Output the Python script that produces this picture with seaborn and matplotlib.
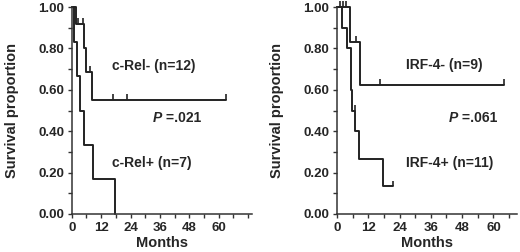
import numpy as np
import pandas as pd
import seaborn as sns
import matplotlib.pyplot as plt
from matplotlib.path import Path
from matplotlib.ticker import MultipleLocator, FormatStrFormatter

# --- left panel: c-Rel
crel_neg_t = [0, 1.9, 4.9, 6.0, 8.3, 63.0]
crel_neg_s = [1.0, 0.917, 0.803, 0.688, 0.55, 0.55]
crel_neg_cens_t = [2.7, 4.4, 7.4, 16.9, 22.4, 63.0]
crel_neg_cens_s = [0.917, 0.917, 0.688, 0.55, 0.55, 0.55]

crel_pos_t = [0, 1.1, 2.2, 3.5, 5.2, 8.5, 17.6]
crel_pos_s = [1.0, 0.833, 0.667, 0.5, 0.333, 0.167, 0.0]

# --- right panel: IRF-4
irf_neg_t = [0, 5.1, 8.7, 64.0]
irf_neg_s = [1.0, 0.833, 0.625, 0.625]
irf_neg_cens_t = [1.3, 2.3, 3.6, 7.4, 16.4, 64.0]
irf_neg_cens_s = [1.0, 1.0, 1.0, 0.833, 0.625, 0.625]

irf_pos_t = [0, 1.8, 3.8, 5.4, 5.9, 7.1, 8.3, 17.5, 21.3]
irf_pos_s = [1.0, 0.9, 0.8, 0.6, 0.5, 0.4, 0.267, 0.133, 0.133]
irf_pos_cens_t = [7.1, 21.3]
irf_pos_cens_s = [0.5, 0.133]

sns.set_style("ticks")
plt.rcParams["font.family"] = ["Liberation Sans", "DejaVu Sans"]
plt.rcParams["font.weight"] = "bold"

LINE = "#222222"
CENSOR = Path([(0, 0), (0, 1)])  # upward tick mark


def draw_curve(ax, t, s):
    df = pd.DataFrame({"t": t, "s": s})
    sns.lineplot(data=df, x="t", y="s", ax=ax, estimator=None, sort=False,
                 drawstyle="steps-post", color=LINE, linewidth=1.4, clip_on=False)


def draw_censor(ax, t, s):
    df = pd.DataFrame({"t": t, "s": s})
    sns.scatterplot(data=df, x="t", y="s", ax=ax, marker=CENSOR, s=70,
                    edgecolor=LINE, facecolor="none", linewidth=1.2, clip_on=False)


def style_axis(ax, xmax, minor_max):
    ax.set_xlim(0, xmax)
    ax.set_ylim(0, 1.0)
    ax.set_xticks(np.arange(0, 61, 12))
    ax.set_xticks(np.arange(6, minor_max + 1, 6), minor=True)
    ax.yaxis.set_major_locator(MultipleLocator(0.2))
    ax.yaxis.set_minor_locator(MultipleLocator(0.1))
    ax.yaxis.set_major_formatter(FormatStrFormatter("%.2f"))
    ax.tick_params(which="both", direction="out", length=3, width=1.0,
                   color="#333333", labelsize=9.5, pad=2.5)
    for lab in ax.get_xticklabels() + ax.get_yticklabels():
        lab.set_fontweight("bold")
    sns.despine(ax=ax)
    for sp in ("left", "bottom"):
        ax.spines[sp].set_color("#333333")
        ax.spines[sp].set_linewidth(1.1)
    ax.set_xlabel("Months", fontsize=10.5, fontweight="bold", labelpad=2)
    ax.set_ylabel("Survival proportion", fontsize=10.5, fontweight="bold", labelpad=14)


def p_label(ax, x, y, value):
    t1 = ax.text(x, y, "P", fontsize=10, fontweight="bold", style="italic",
                 va="center", ha="left")
    ax.annotate(" =" + value, xy=(1, 0.5), xycoords=t1, va="center", ha="left",
                fontsize=10, fontweight="bold")


fig = plt.figure(figsize=(5.2, 2.52), dpi=100)
ax1 = fig.add_axes([0.138, 0.151, 0.346, 0.821])
ax2 = fig.add_axes([0.648, 0.151, 0.346, 0.821])

draw_curve(ax1, crel_neg_t, crel_neg_s)
draw_curve(ax1, crel_pos_t, crel_pos_s)
draw_censor(ax1, crel_neg_cens_t, crel_neg_cens_s)
style_axis(ax1, 73.5, 72)
ax1.text(16.3, 0.715, "c-Rel- (n=12)", fontsize=10, fontweight="bold", va="center")
ax1.text(16.3, 0.246, "c-Rel+ (n=7)", fontsize=10, fontweight="bold", va="center")
p_label(ax1, 33, 0.464, ".021")

draw_curve(ax2, irf_neg_t, irf_neg_s)
draw_curve(ax2, irf_pos_t, irf_pos_s)
draw_censor(ax2, irf_neg_cens_t, irf_neg_cens_s)
draw_censor(ax2, irf_pos_cens_t, irf_pos_cens_s)
style_axis(ax2, 69, 66)
ax2.text(26.4, 0.72, "IRF-4- (n=9)", fontsize=10, fontweight="bold", va="center")
ax2.text(26.4, 0.246, "IRF-4+ (n=11)", fontsize=10, fontweight="bold", va="center")
p_label(ax2, 42.7, 0.464, ".061")

fig.savefig("out.png", dpi=100)
